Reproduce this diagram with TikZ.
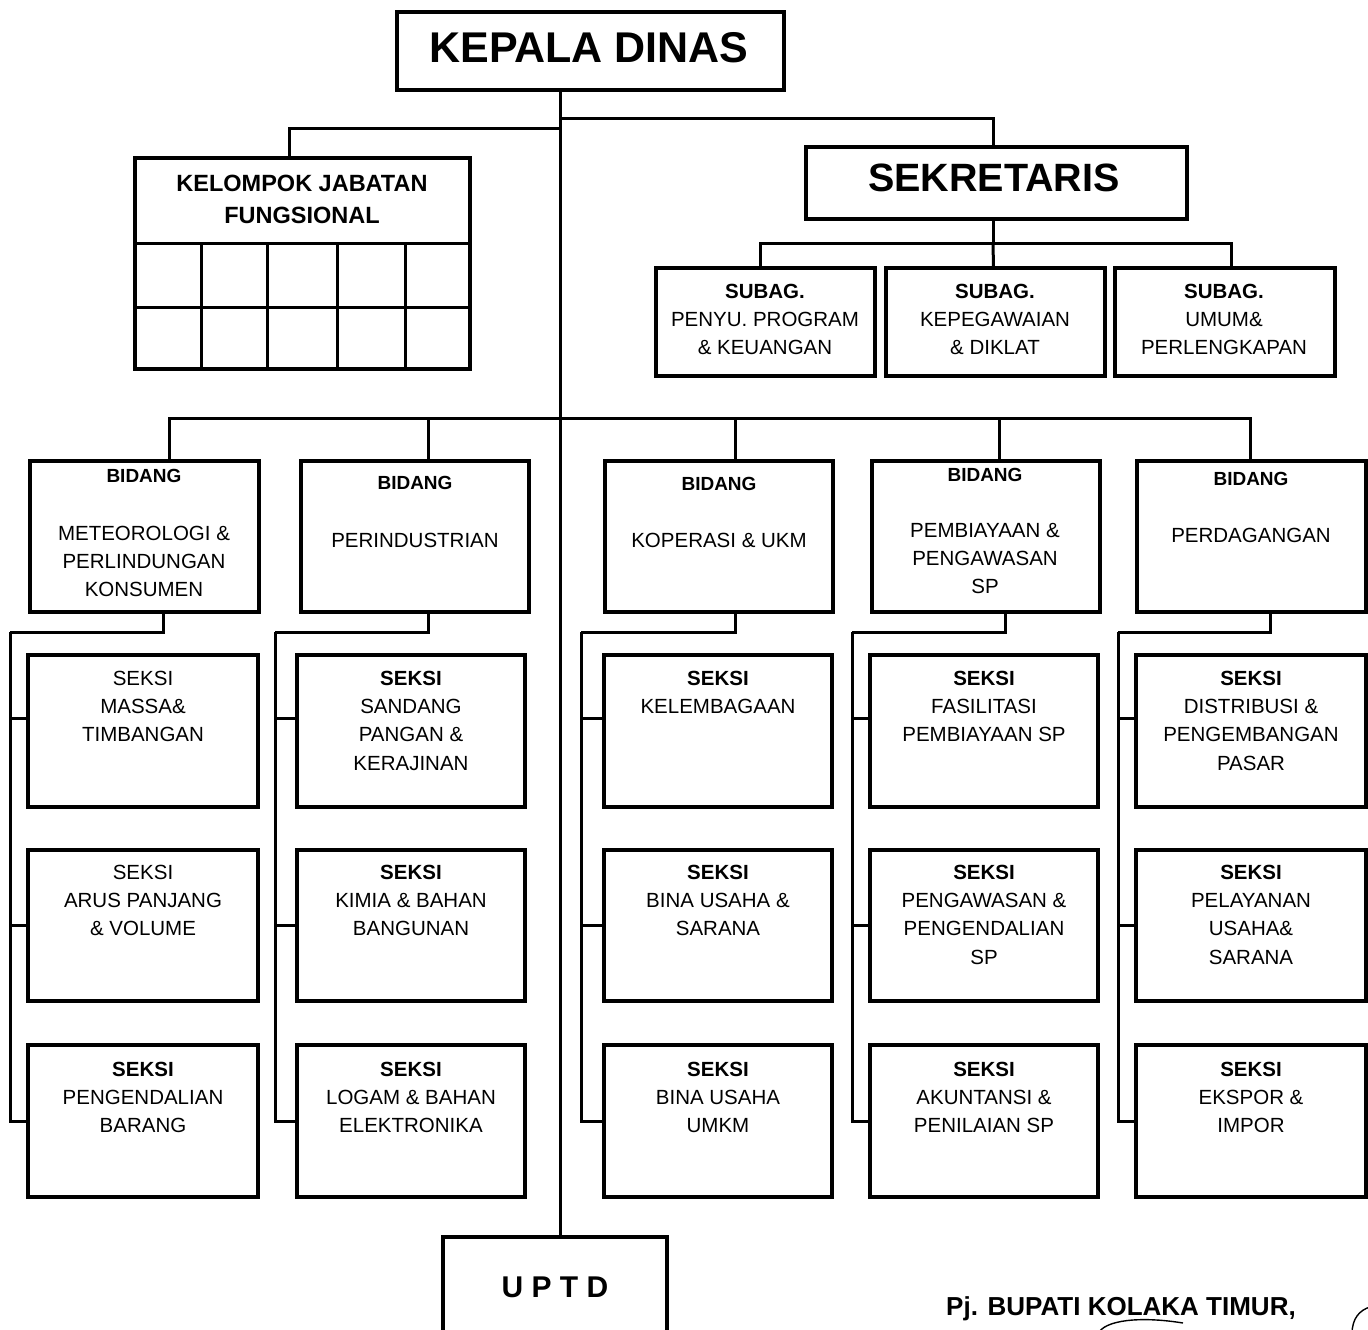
\documentclass[tikz,border=0pt]{standalone}
\usepackage{fontspec}
\setmainfont{Liberation Sans}
% box given by its corners: name, x1, y1, x2, y2
\newcommand\orgbox[5]{\node[box, minimum width={#4-#2}, minimum height={#5-#3}] (#1) at ({(#2+#4)/2},{(#3+#5)/2}) {};}
\begin{document}
\begin{tikzpicture}[x=1pt,y=-1pt,
  box/.style={draw, line width=3.2pt, inner sep=0pt, outer sep=0pt},
  link/.style={line width=3pt},
  txt/.style={inner sep=0pt, align=center, anchor=north, font=\fontsize{20.5}{28.3}\selectfont},
  head/.style={inner sep=0pt, align=center, anchor=north, font=\fontsize{19}{24}\selectfont\bfseries},
]
\useasboundingbox (0,0) rectangle (1368,1330);
\clip (0,0) rectangle (1368,1330);

% ---------- top level ----------
\orgbox{kd}{397}{12}{784}{90}
\node[inner sep=0pt, font=\fontsize{43}{48}\selectfont\bfseries] (kdt) at (589,48) {KEPALA DINAS};

\orgbox{sek}{806}{147}{1187}{219}
\node[inner sep=0pt, font=\fontsize{39.5}{44}\selectfont\bfseries] (sekt) at (994,178) {SEKRETARIS};

\orgbox{kel}{135}{158}{470}{369}
\node[inner sep=0pt, align=center, anchor=north, font=\fontsize{23.5}{32}\selectfont\bfseries] (kelt) at (302,174.5) {KELOMPOK JABATAN\\FUNGSIONAL};
% grid of the functional group
\draw[line width=3pt] (kel.west |- 0,243) -- (kel.east |- 0,243);
\draw[line width=3pt] (kel.west |- 0,307) -- (kel.east |- 0,307);
\foreach \gx in {201,267,337,405}
  \draw[line width=3pt] (\gx,243) -- (kel.south -| \gx,0);

% ---------- sub-sections of the secretary ----------
\orgbox{sub1}{656}{268}{875}{376}
\orgbox{sub2}{886}{268}{1105}{376}
\orgbox{sub3}{1115}{268}{1335}{376}
\node[txt] (sub1t) at (765,283.7) {\textbf{SUBAG.}\\PENYU. PROGRAM\\\& KEUANGAN};
\node[txt] (sub2t) at (995,283.7) {\textbf{SUBAG.}\\KEPEGAWAIAN\\\& DIKLAT};
\node[txt] (sub3t) at (1224,283.7) {\textbf{SUBAG.}\\UMUM\&\\PERLENGKAPAN};

% ---------- divisions ----------
\orgbox{b1}{30}{461}{259}{612}
\orgbox{b2}{301}{461}{529}{612}
\orgbox{b3}{605}{461}{833}{612}
\orgbox{b4}{872}{461}{1100}{612}
\orgbox{b5}{1137}{461}{1366}{612}
\node[head] (b1h) at (144,469) {BIDANG};
\node[head] (b2h) at (415,476) {BIDANG};
\node[head] (b3h) at (719,477) {BIDANG};
\node[head] (b4h) at (985,468) {BIDANG};
\node[head] (b5h) at (1251,472) {BIDANG};
\node[txt] (b1t) at (144,525.7) {METEOROLOGI \&\\PERLINDUNGAN\\KONSUMEN};
\node[txt] (b2t) at (415,532.7) {PERINDUSTRIAN};
\node[txt] (b3t) at (719,532.7) {KOPERASI \& UKM};
\node[txt] (b4t) at (985,522.7) {PEMBIAYAAN \&\\PENGAWASAN\\SP};
\node[txt] (b5t) at (1251,527.7) {PERDAGANGAN};

% ---------- sections ----------
\orgbox{s11}{28}{655}{258}{807}
\orgbox{s12}{28}{850}{258}{1001}
\orgbox{s13}{28}{1045}{258}{1197}
\orgbox{s21}{297}{655}{525}{807}
\orgbox{s22}{297}{850}{525}{1001}
\orgbox{s23}{297}{1045}{525}{1197}
\orgbox{s31}{604}{655}{832}{807}
\orgbox{s32}{604}{850}{832}{1001}
\orgbox{s33}{604}{1045}{832}{1197}
\orgbox{s41}{870}{655}{1098}{807}
\orgbox{s42}{870}{850}{1098}{1001}
\orgbox{s43}{870}{1045}{1098}{1197}
\orgbox{s51}{1136}{655}{1366}{807}
\orgbox{s52}{1136}{850}{1366}{1001}
\orgbox{s53}{1136}{1045}{1366}{1197}

\node[txt] (s11t) at (143,670.7) {SEKSI\\MASSA\&\\TIMBANGAN};
\node[txt] (s12t) at (143,864.7) {SEKSI\\ARUS PANJANG\\\& VOLUME};
\node[txt] (s13t) at (143,1061.7) {\textbf{SEKSI}\\PENGENDALIAN\\BARANG};
\node[txt] (s21t) at (411,670.7) {\textbf{SEKSI}\\SANDANG\\PANGAN \&\\KERAJINAN};
\node[txt] (s22t) at (411,864.7) {\textbf{SEKSI}\\KIMIA \& BAHAN\\BANGUNAN};
\node[txt] (s23t) at (411,1061.7) {\textbf{SEKSI}\\LOGAM \& BAHAN\\ELEKTRONIKA};
\node[txt] (s31t) at (718,670.7) {\textbf{SEKSI}\\KELEMBAGAAN};
\node[txt] (s32t) at (718,864.7) {\textbf{SEKSI}\\BINA USAHA \&\\SARANA};
\node[txt] (s33t) at (718,1061.7) {\textbf{SEKSI}\\BINA USAHA\\UMKM};
\node[txt] (s41t) at (984,670.7) {\textbf{SEKSI}\\FASILITASI\\PEMBIAYAAN SP};
\node[txt] (s42t) at (984,864.7) {\textbf{SEKSI}\\PENGAWASAN \&\\PENGENDALIAN\\SP};
\node[txt] (s43t) at (984,1061.7) {\textbf{SEKSI}\\AKUNTANSI \&\\PENILAIAN SP};
\node[txt] (s51t) at (1251,670.7) {\textbf{SEKSI}\\DISTRIBUSI \&\\PENGEMBANGAN\\PASAR};
\node[txt] (s52t) at (1251,864.7) {\textbf{SEKSI}\\PELAYANAN\\USAHA\&\\SARANA};
\node[txt] (s53t) at (1251,1061.7) {\textbf{SEKSI}\\EKSPOR \&\\IMPOR};

% ---------- technical unit ----------
\orgbox{uptd}{443}{1237}{667}{1420}
\node[inner sep=0pt, font=\fontsize{30}{34}\selectfont\bfseries] (uptdt) at (555,1287) {U P T D};

% ---------- signature block ----------
\node[inner sep=0pt, font=\fontsize{26}{30}\selectfont\bfseries] (sign) at (1121,1309) {Pj. BUPATI KOLAKA TIMUR,};
\draw[line width=1.4pt] (1098,1334) .. controls (1104,1320) and (1140,1316) .. (1183,1323);
\draw[line width=1.4pt] (1352,1334) .. controls (1352,1318) and (1360,1310) .. (1370,1307);

% ---------- junctions ----------
\coordinate (jS) at (560,118);
\coordinate (jK) at (560,128);
\coordinate (jB) at (560,418);
\coordinate (jSub) at (993,243);
\coordinate (v1) at (10,632);
\coordinate (v2) at (275,632);
\coordinate (v3) at (581,632);
\coordinate (v4) at (852,632);
\coordinate (v5) at (1118,632);

% ---------- connectors ----------
\draw[link] (kd.south -| jS) -- (uptd.north -| jS);
\draw[link] (jS) -| ([xshift=-3.5pt]sek.north);
\draw[link] (jK) -| ([xshift=-13.5pt]kel.north);

\draw[link] ([xshift=-3.5pt]sek.south) -- (jSub);
\draw[link] ([xshift=-5.5pt]sub1.north) |- (jSub) -| ([xshift=6pt]sub3.north);
\draw[link] ([xshift=-2pt]sub2.north) -- (jSub);

\draw[link] ([xshift=24.5pt]b1.north) |- (jB) -| ([xshift=-1.5pt]b5.north);
\draw[link] ([xshift=13pt]b2.north) |- (jB);
\draw[link] ([xshift=16pt]b3.north) |- (jB);
\draw[link] ([xshift=13pt]b4.north) |- (jB);

\foreach \c/\dx in {1/18.5, 2/13, 3/16, 4/19, 5/18.5} {
  \draw[link] ([xshift=\dx pt]b\c.south) |- (v\c);
  \draw[link] ([yshift=13pt]s\c1.west) -| (v\c);
  \draw[link] (s\c2.west) -| (v\c);
  \draw[link] (s\c3.west) -| (v\c);
}
\end{tikzpicture}
\end{document}
